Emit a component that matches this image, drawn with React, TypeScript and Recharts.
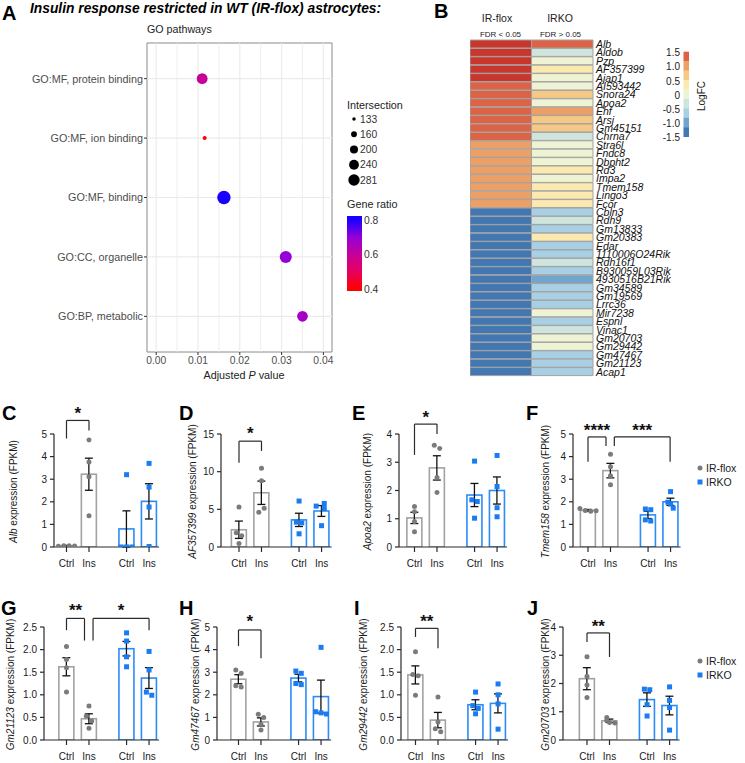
import React from "react";
import {
  ScatterChart,
  Scatter,
  XAxis,
  YAxis,
  ZAxis,
  Cell,
  ReferenceLine,
  ReferenceArea,
  ReferenceDot,
  BarChart,
  Bar,
  ComposedChart,
  ErrorBar,
} from "recharts";

const FONT = "'Liberation Sans', Arial, Helvetica, sans-serif";
const GRAY = "#a2a2a2";
const DOT_GRAY = "#7b7b7b";
const BLUE = "#2b8cf6";
const SQ_BLUE = "#1a7cf2";

// ---------- A: GO pathways ----------
const pathways = [
  "GO:MF, protein binding",
  "GO:MF, ion binding",
  "GO:MF, binding",
  "GO:CC, organelle",
  "GO:BP, metabolic",
];
const adjP = [0.011, 0.0116, 0.0162, 0.031, 0.035];
const intersection = [225, 133, 281, 250, 222];
const geneRatio = [0.6, 0.4, 0.8, 0.7, 0.67];
const pTicks = [0, 0.01, 0.02, 0.03, 0.04];
const sizeLegend = [133, 160, 200, 240, 281];
const ratioLegend = [0.8, 0.6, 0.4];

// ---------- B: heatmap ----------
const genes = [
  "Alb", "Aldob", "Pzp", "AF357399", "Ajap1", "AI593442", "Snora24", "Apoa2", "Ehf", "Arsj",
  "Gm45151", "Chrna7", "Stra6l", "Fndc8", "Dbpht2", "Rd3", "Impa2", "Tmem158", "Lingo3", "Fcor",
  "Cbln3", "Rdh9", "Gm13833", "Gm20383", "Edar", "1110006O24Rik", "Rdh16f1", "B930059L03Rik", "4930516B21Rik", "Gm34589",
  "Gm19569", "Lrrc36", "Mir7238", "Espnl", "Vinac1", "Gm20703", "Gm29442", "Gm47467", "Gm21123", "Acap1",
];
const fcIRflox = [
  2.1, 1.95, 1.9, 1.85, 1.8, 1.5, 1.45, 1.42, 1.4, 1.38,
  1.35, 1.3, 1.1, 1.08, 1.05, 1.02, 1.0, 0.98, 0.96, 0.95,
  -1.6, -1.6, -1.55, -1.55, -1.55, -1.5, -1.5, -1.5, -1.5, -1.5,
  -1.5, -1.5, -1.5, -1.5, -1.5, -1.45, -1.45, -1.45, -1.45, -1.45,
];
const fcIRKO = [
  1.35, -0.3, 0.05, 0.35, 0.1, 0.05, 0.7, 0.1, 1.0, 0.65,
  0.7, -0.3, 0.05, 0.1, 0.0, 0.3, 0.05, 0.35, 0.3, 0.35,
  -0.7, -0.35, -0.65, 0.3, -0.7, -0.7, -0.3, -0.65, -1.05, -0.7,
  -0.7, -0.7, 0.05, -0.7, -0.3, 0.1, 0.05, -0.65, -0.7, -0.7,
];
const logFcTicks = [1.5, 1.0, 0.5, 0, -0.5, -1.0, -1.5];

// ---------- C-J: expression ----------
const groups = ["Ctrl", "Ins", "Ctrl", "Ins"];
const POS = [0, 1, 2.67, 3.67];

const albMean = [0.05, 3.22, 0.8, 2.02];
const albSem = [0.02, 0.71, 0.8, 0.78];
const albPts = [[0.03, 0.05, 0.06, 0.04], [4.73, 3.76, 3.11, 1.38], [3.2, 0, 0, 0], [3.7, 2.65, 1.77, 0.02]];

const afMean = [2.29, 7.2, 3.6, 4.78];
const afSem = [1.15, 1.55, 0.88, 0.72];
const afPts = [[5.3, 1.9, 1.5, 0.45], [10.45, 8.8, 4.6, 5.15], [6.1, 3.3, 3.2, 1.75], [5.43, 5.78, 5.1, 2.83]];

const apoMean = [1.03, 2.8, 1.84, 2.0];
const apoSem = [0.2, 0.43, 0.41, 0.48];
const apoPts = [[1.43, 1.25, 0.9, 0.54], [3.6, 3.49, 2.46, 1.93], [3.04, 1.67, 1.61, 1.02], [3.24, 2.14, 1.39, 1.07]];

const tmemMean = [1.62, 3.38, 1.42, 2.0];
const tmemSem = [0.04, 0.32, 0.16, 0.16];
const tmemPts = [[1.7, 1.62, 1.58, 1.6], [4.1, 3.55, 3.15, 2.75], [1.68, 1.65, 1.2, 1.15], [2.45, 1.98, 1.9, 1.72]];

const gm21123Mean = [1.62, 0.47, 2.02, 1.37];
const gm21123Sem = [0.2, 0.11, 0.16, 0.23];
const gm21123Pts = [[2.07, 1.78, 1.6, 1.06], [0.75, 0.53, 0.42, 0.26], [2.37, 2.19, 1.84, 1.62], [1.96, 1.55, 1.06, 0.99]];

const gm47467Mean = [2.69, 0.8, 2.74, 1.92];
const gm47467Sem = [0.2, 0.18, 0.17, 0.73];
const gm47467Pts = [[3.1, 2.95, 2.4, 2.35], [1.14, 1.0, 0.7, 0.44], [3.05, 2.95, 2.5, 2.45], [4.1, 1.25, 1.2, 1.15]];

const gm29442Mean = [1.44, 0.44, 0.78, 0.81];
const gm29442Sem = [0.2, 0.17, 0.11, 0.21];
const gm29442Pts = [[1.95, 1.45, 1.42, 0.99], [0.95, 0.4, 0.25, 0.18], [1.06, 0.76, 0.7, 0.58], [1.24, 1.0, 0.8, 0.24]];

const gm20703Mean = [2.17, 0.68, 1.43, 1.22];
const gm20703Sem = [0.39, 0.06, 0.24, 0.33];
const gm20703Pts = [[2.95, 2.25, 1.95, 1.5], [0.8, 0.7, 0.62, 0.6], [1.8, 1.78, 1.25, 0.85], [1.88, 1.4, 1.15, 0.35]];

// ---------- colour helpers ----------
const ratioStops: [number, string][] = [
  [0.4, "#ff0000"],
  [0.5, "#e6005e"],
  [0.6, "#c7009a"],
  [0.7, "#9500d8"],
  [0.8, "#1a00ff"],
];

function hexToRgb(h: string) {
  return [1, 3, 5].map((i) => parseInt(h.slice(i, i + 2), 16));
}

function ratioColor(v: number) {
  for (let i = 0; i < ratioStops.length - 1; i++) {
    const [a, ca] = ratioStops[i];
    const [b, cb] = ratioStops[i + 1];
    if (v <= b || i === ratioStops.length - 2) {
      const t = Math.max(0, Math.min(1, (v - a) / (b - a)));
      const x = hexToRgb(ca);
      const y = hexToRgb(cb);
      const c = x.map((q, k) => Math.round(q + (y[k] - q) * t));
      return `rgb(${c[0]},${c[1]},${c[2]})`;
    }
  }
  return ratioStops[0][1];
}

const fcBins: [number, string][] = [
  [1.17, "#dc6346"],
  [0.83, "#eca066"],
  [0.5, "#f6c886"],
  [0.17, "#fbe9b0"],
  [-0.17, "#eef4d3"],
  [-0.5, "#cfe4dd"],
  [-0.83, "#a8cfe4"],
  [-1.17, "#72a5cd"],
  [-99, "#4277b2"],
];

function fcColor(v: number) {
  if (v >= 1.6) return "#c9372c";
  for (const [lo, c] of fcBins) if (v >= lo) return c;
  return "#4277b2";
}

// ---------- panel A ----------
const Z_RANGE: [number, number] = [13, 140];
function dotRadius(v: number) {
  const area = Z_RANGE[0] + ((v - 133) / (281 - 133)) * (Z_RANGE[1] - Z_RANGE[0]);
  return Math.sqrt(area / Math.PI);
}

const PathTick = (props: any) => (
  <text x={props.x} y={props.y} dy={3.9} textAnchor="end" fontSize={10.8} fill="#4d4d4d">
    {pathways[props.payload.value]}
  </text>
);

function PanelA() {
  const data = pathways.map((name, i) => ({
    row: i,
    p: adjP[i],
    size: intersection[i],
    ratio: geneRatio[i],
  }));
  const lo = -0.0022;
  const hi = 0.04206;
  const grid = [0, 0.005, 0.01, 0.015, 0.02, 0.025, 0.03, 0.035, 0.04];
  return (
    <div style={{ position: "absolute", left: 0, top: 0 }}>
      <ScatterChart width={340} height={385} margin={{ top: 43, right: 8, bottom: 0, left: 0 }}>
        <XAxis
          type="number"
          dataKey="p"
          domain={[lo, hi]}
          allowDataOverflow
          ticks={pTicks}
          tickFormatter={(v: number) => v.toFixed(2)}
          height={33}
          tickSize={3}
          tickMargin={2}
          axisLine={false}
          tickLine={{ stroke: "#333" }}
          tick={{ fontSize: 10.3, fill: "#4d4d4d" }}
        />
        <YAxis
          type="number"
          dataKey="row"
          domain={[-0.6, 4.6]}
          reversed
          allowDataOverflow
          ticks={[0, 1, 2, 3, 4]}
          interval={0}
          width={147}
          tickSize={3}
          tickMargin={1}
          axisLine={false}
          tickLine={{ stroke: "#333" }}
          tick={<PathTick />}
        />
        <ZAxis type="number" dataKey="size" domain={[133, 281]} range={Z_RANGE} />
        {grid.map((g, i) => (
          <ReferenceLine key={`gx${g}`} x={g} stroke="#ebebeb" strokeWidth={i % 2 === 0 ? 1.2 : 0.8} />
        ))}
        {[0, 1, 2, 3, 4].map((r) => (
          <ReferenceLine key={`gy${r}`} y={r} stroke="#ebebeb" strokeWidth={1.2} />
        ))}
        <ReferenceArea x1={lo} x2={hi} y1={-0.6} y2={4.6} fill="none" stroke="#8a8a8a" strokeWidth={1} ifOverflow="visible" />
        <Scatter data={data} isAnimationActive={false}>
          {data.map((d, i) => (
            <Cell key={i} fill={ratioColor(d.ratio)} />
          ))}
        </Scatter>
      </ScatterChart>
    </div>
  );
}

// ---------- panel B ----------
function PanelB() {
  const data = genes.map((g) => ({ gene: g, a: 1, b: 1 }));
  return (
    <div style={{ position: "absolute", left: 470, top: 34 }}>
      <BarChart
        layout="vertical"
        width={213}
        height={348}
        data={data}
        margin={{ top: 6, right: 0, bottom: 6, left: 0 }}
        barCategoryGap={0}
      >
        <XAxis type="number" hide domain={[0, 2]} />
        <YAxis
          type="category"
          dataKey="gene"
          orientation="right"
          width={90}
          axisLine={false}
          tickLine={false}
          tickSize={0}
          tickMargin={3}
          interval={0}
          tick={{ fontSize: 10.5, fontStyle: "italic", fill: "#111" }}
        />
        <Bar dataKey="a" stackId="s" isAnimationActive={false} stroke="#a2a2a2" strokeWidth={1}>
          {fcIRflox.map((v, i) => (
            <Cell key={i} fill={fcColor(v)} />
          ))}
        </Bar>
        <Bar dataKey="b" stackId="s" isAnimationActive={false} stroke="#a2a2a2" strokeWidth={1}>
          {fcIRKO.map((v, i) => (
            <Cell key={i} fill={fcColor(v)} />
          ))}
        </Bar>
      </BarChart>
    </div>
  );
}

// ---------- panels C-J ----------
type Bracket = { from: number; to: number; top: number; legL: number; legR: number; star: string; starY: number };
type Panel = {
  letter: string;
  gene: string;
  axisX: number;
  firstX: number;
  plotTop: number;
  yMax: number;
  yTicks: number[];
  dec: number;
  labelX: number;
  means: number[];
  sems: number[];
  pts: number[][];
  brackets: Bracket[];
  legend?: boolean;
};

const UNIT = 22.5;
const PLOT_H = 113;
const ROW1 = 434;
const ROW2 = 627;

const panels: Panel[] = [
  { letter: "C", gene: "Alb", axisX: 54, firstX: 66.5, plotTop: ROW1, yMax: 5, yTicks: [0, 1, 2, 3, 4, 5], dec: 0, labelX: 13.5,
    means: albMean, sems: albSem, pts: albPts,
    brackets: [{ from: 0, to: 1, top: 5.6, legL: 4.8, legR: 5.15, star: "*", starY: 6.1 }] },
  { letter: "D", gene: "AF357399", axisX: 221, firstX: 239, plotTop: ROW1, yMax: 15, yTicks: [0, 5, 10, 15], dec: 0, labelX: 192,
    means: afMean, sems: afSem, pts: afPts,
    brackets: [{ from: 0, to: 1, top: 14.05, legL: 11.2, legR: 12.75, star: "*", starY: 15.6 }] },
  { letter: "E", gene: "Apoa2", axisX: 399, firstX: 414.5, plotTop: ROW1, yMax: 4, yTicks: [0, 1, 2, 3, 4], dec: 0, labelX: 367.5,
    means: apoMean, sems: apoSem, pts: apoPts,
    brackets: [{ from: 0, to: 1, top: 4.35, legL: 3.26, legR: 4.0, star: "*", starY: 4.74 }] },
  { letter: "F", gene: "Tmem158", axisX: 573, firstX: 588, plotTop: ROW1, yMax: 5, yTicks: [0, 1, 2, 3, 4, 5], dec: 0, labelX: 545,
    means: tmemMean, sems: tmemSem, pts: tmemPts, legend: true,
    brackets: [
      { from: 0, to: 0.8, top: 4.87, legL: 3.77, legR: 4.47, star: "****", starY: 5.35 },
      { from: 1.17, to: 3.65, top: 4.87, legL: 4.47, legR: 3.77, star: "***", starY: 5.35 },
    ] },
  { letter: "G", gene: "Gm21123", axisX: 44, firstX: 66.5, plotTop: ROW2, yMax: 2.5, yTicks: [0, 0.5, 1, 1.5, 2, 2.5], dec: 1, labelX: 10,
    means: gm21123Mean, sems: gm21123Sem, pts: gm21123Pts,
    brackets: [
      { from: 0, to: 0.8, top: 2.69, legL: 2.43, legR: 2.2, star: "**", starY: 2.96 },
      { from: 1.18, to: 3.67, top: 2.69, legL: 2.2, legR: 2.43, star: "*", starY: 2.96 },
    ] },
  { letter: "H", gene: "Gm47467", axisX: 217, firstX: 238.5, plotTop: ROW2, yMax: 5, yTicks: [0, 1, 2, 3, 4, 5], dec: 0, labelX: 195,
    means: gm47467Mean, sems: gm47467Sem, pts: gm47467Pts,
    brackets: [{ from: 0, to: 1, top: 4.87, legL: 4.16, legR: 3.62, star: "*", starY: 5.43 }] },
  { letter: "I", gene: "Gm29442", axisX: 401, firstX: 415.5, plotTop: ROW2, yMax: 2.5, yTicks: [0, 0.5, 1, 1.5, 2, 2.5], dec: 1, labelX: 363,
    means: gm29442Mean, sems: gm29442Sem, pts: gm29442Pts,
    brackets: [{ from: 0, to: 1, top: 2.47, legL: 2.28, legR: 2.03, star: "**", starY: 2.72 }] },
  { letter: "J", gene: "Gm20703", axisX: 563, firstX: 587, plotTop: ROW2, yMax: 4, yTicks: [0, 1, 2, 3, 4], dec: 0, labelX: 545,
    means: gm20703Mean, sems: gm20703Sem, pts: gm20703Pts, legend: true,
    brackets: [{ from: 0, to: 1, top: 3.79, legL: 3.47, legR: 2.94, star: "**", starY: 4.16 }] },
];

// spread overlapping dots sideways, like a scatter dot plot
function spread(vals: number[], yMax: number) {
  const thr = (5 * yMax) / PLOT_H;
  return vals.map((v, i) => {
    const near = vals.map((w, j) => (Math.abs(w - v) < thr ? j : -1)).filter((j) => j >= 0);
    const rank = near.indexOf(i);
    return (rank - (near.length - 1) / 2) * 0.24;
  });
}

const circleShape = (p: any) => <circle cx={p.cx} cy={p.cy} r={2.5} fill={DOT_GRAY} />;
const squareShape = (p: any) => <rect x={p.cx - 2.5} y={p.cy - 2.5} width={5} height={5} fill={SQ_BLUE} />;
const openBar = (q: any) => {
  const cx = q.x + q.width / 2;
  return (
    <rect
      x={cx - 7.5}
      y={q.y}
      width={15}
      height={Math.max(q.height, 0.5)}
      fill="none"
      stroke={q.stroke}
      strokeWidth={1.6}
    />
  );
};

function BarPanel({ p }: { p: Panel }) {
  const yw = 40;
  const mt = 46;
  const xh = 28;
  const lo = -(p.firstX - p.axisX) / UNIT;
  const hi = POS[3] + 10 / UNIT;
  const plotW = (hi - lo) * UNIT;
  const width = yw + plotW + 4;
  const height = mt + PLOT_H + xh;
  const bars = POS.map((x, i) => ({ x, mean: p.means[i], sem: p.sems[i] }));
  const floxPts: { x: number; y: number }[] = [];
  const koPts: { x: number; y: number }[] = [];
  p.pts.forEach((vals, g) => {
    const off = spread(vals, p.yMax);
    vals.forEach((v, k) => (g < 2 ? floxPts : koPts).push({ x: POS[g] + off[k], y: v }));
  });
  const line = { stroke: "#2a2a2a", strokeWidth: 1.2 };
  return (
    <div style={{ position: "absolute", left: p.axisX - yw, top: p.plotTop - mt }}>
      <ComposedChart width={width} height={height} data={bars} margin={{ top: mt, right: 4, bottom: 0, left: 0 }}>
        <XAxis
          dataKey="x"
          type="number"
          domain={[lo, hi]}
          allowDataOverflow
          ticks={POS}
          interval={0}
          tickFormatter={(_v: number, i: number) => groups[i]}
          height={xh}
          tickSize={5}
          tickMargin={8}
          axisLine={line}
          tickLine={line}
          tick={{ fontSize: 10, fill: "#1a1a1a" }}
        />
        <YAxis
          type="number"
          domain={[0, p.yMax]}
          allowDataOverflow
          ticks={p.yTicks}
          interval={0}
          tickFormatter={(v: number) => v.toFixed(p.dec)}
          width={yw}
          tickSize={4}
          tickMargin={3}
          axisLine={line}
          tickLine={line}
          tick={{ fontSize: 10, fill: "#1a1a1a" }}
        />
        <Scatter data={floxPts} dataKey="y" shape={circleShape} isAnimationActive={false} />
        <Scatter data={koPts} dataKey="y" shape={squareShape} isAnimationActive={false} />
        <Bar dataKey="mean" barSize={15} shape={openBar} isAnimationActive={false}>
          {bars.map((_b, i) => (
            <Cell key={i} stroke={i < 2 ? GRAY : BLUE} />
          ))}
          <ErrorBar dataKey="sem" width={4} stroke="#111" strokeWidth={1.3} direction="y" />
        </Bar>
        {p.brackets.map((b, i) => (
          <ReferenceLine key={`bl${i}`} segment={[{ x: b.from, y: b.legL }, { x: b.from, y: b.top }]} ifOverflow="visible" {...line} />
        ))}
        {p.brackets.map((b, i) => (
          <ReferenceLine key={`bt${i}`} segment={[{ x: b.from, y: b.top }, { x: b.to, y: b.top }]} ifOverflow="visible" {...line} />
        ))}
        {p.brackets.map((b, i) => (
          <ReferenceLine key={`br${i}`} segment={[{ x: b.to, y: b.top }, { x: b.to, y: b.legR }]} ifOverflow="visible" {...line} />
        ))}
        {p.brackets.map((b, i) => (
          <ReferenceDot
            key={`bs${i}`}
            x={(b.from + b.to) / 2}
            y={b.starY}
            r={0}
            ifOverflow="visible"
            shape={(q: any) => (
              <text x={q.cx} y={q.cy + 10} textAnchor="middle" fontSize={17} fontWeight="bold" fill="#111">
                {b.star}
              </text>
            )}
          />
        ))}
      </ComposedChart>
    </div>
  );
}

function Overlay() {
  const cbTop = 51.7;
  const cbH = 85;
  const binH = cbH / 9;
  return (
    <svg width={745} height={763} style={{ position: "absolute", left: 0, top: 0, pointerEvents: "none" }}>
      <defs>
        <linearGradient id="ratioGrad" x1="0" y1="0" x2="0" y2="1">
          {[0.823, 0.8, 0.7, 0.6, 0.5, 0.4, 0.388].map((v) => (
            <stop key={v} offset={(0.823 - v) / (0.823 - 0.388)} stopColor={ratioColor(v)} />
          ))}
        </linearGradient>
      </defs>
      {/* A */}
      <text x={2} y={19.5} fontSize={20} fontWeight="bold">A</text>
      <text x={30} y={13} fontSize={13.8} fontWeight="bold" fontStyle="italic">
        Insulin response restricted in WT (IR-flox) astrocytes:
      </text>
      <text x={147} y={32.5} fontSize={10.7} fill="#222">GO pathways</text>
      <text x={244} y={379} fontSize={10.8} textAnchor="middle" fill="#222">
        Adjusted <tspan fontStyle="italic">P</tspan> value
      </text>
      <text x={347} y={109} fontSize={10.8} fill="#222">Intersection</text>
      {sizeLegend.map((v, i) => (
        <g key={v}>
          <circle cx={354} cy={119 + i * 15.25} r={dotRadius(v) * 0.85} fill="#000" />
          <text x={360} y={122.6 + i * 15.25} fontSize={10.3} fill="#333">{v}</text>
        </g>
      ))}
      <text x={347} y={207.5} fontSize={10.8} fill="#222">Gene ratio</text>
      <rect x={347} y={216} width={15} height={75} fill="url(#ratioGrad)" />
      {ratioLegend.map((v) => (
        <text key={v} x={364} y={220.3 + (0.8 - v) * 172.5 + 3.6} fontSize={10.3} fill="#333">
          {v.toFixed(1)}
        </text>
      ))}
      {/* B */}
      <text x={434} y={17.5} fontSize={20} fontWeight="bold">B</text>
      <text x={497} y={22} fontSize={10.5} textAnchor="middle" fill="#222">IR-flox</text>
      <text x={560} y={22} fontSize={10.5} textAnchor="middle" fill="#222">IRKO</text>
      <text x={500.5} y={37} fontSize={8} textAnchor="middle" fill="#222">FDR &lt; 0.05</text>
      <text x={560.5} y={37} fontSize={8} textAnchor="middle" fill="#222">FDR &gt; 0.05</text>
      {fcBins.map(([, c], i) => (
        <rect key={c} x={683.5} y={cbTop + i * binH} width={5.5} height={binH + 0.3} fill={c} />
      ))}
      {logFcTicks.map((v, i) => (
        <text key={v} x={680} y={cbTop + 1 + i * 14.17 + 3.6} fontSize={10} textAnchor="end" fill="#222">
          {v === 0 ? "0" : v.toFixed(1)}
        </text>
      ))}
      <text transform="translate(705,96) rotate(-90)" fontSize={10} textAnchor="middle" fill="#222">LogFC</text>
      {/* C-J letters, axis titles, legends */}
      {panels.map((p) => (
        <g key={p.letter}>
          <text
            x={{ C: 2, D: 179, E: 352, F: 526, G: 1, H: 179, I: 354, J: 527 }[p.letter]}
            y={p.plotTop === ROW1 ? 420 : 615}
            fontSize={20}
            fontWeight="bold"
          >
            {p.letter}
          </text>
          <text
            transform={`translate(${p.labelX + 3.5},${p.plotTop + PLOT_H / 2 + 1}) rotate(-90)`}
            fontSize={10}
            textAnchor="middle"
            fill="#1a1a1a"
          >
            <tspan fontStyle="italic">{p.gene}</tspan> expression (FPKM)
          </text>
          {p.legend && (
            <g>
              <circle cx={700} cy={p.plotTop + 34} r={2.5} fill={DOT_GRAY} />
              <text x={706} y={p.plotTop + 37.8} fontSize={10.5} fill="#1a1a1a">IR-flox</text>
              <rect x={697.5} y={p.plotTop + 45.5} width={5} height={5} fill={SQ_BLUE} />
              <text x={706} y={p.plotTop + 51.8} fontSize={10.5} fill="#1a1a1a">IRKO</text>
            </g>
          )}
        </g>
      ))}
    </svg>
  );
}

export default function App() {
  return (
    <div
      style={{
        position: "absolute",
        left: 0,
        top: 0,
        width: 745,
        height: 763,
        background: "#ffffff",
        fontFamily: FONT,
        overflow: "hidden",
      }}
    >
      <PanelA />
      <PanelB />
      {panels.map((p) => (
        <BarPanel key={p.letter} p={p} />
      ))}
      <Overlay />
    </div>
  );
}
